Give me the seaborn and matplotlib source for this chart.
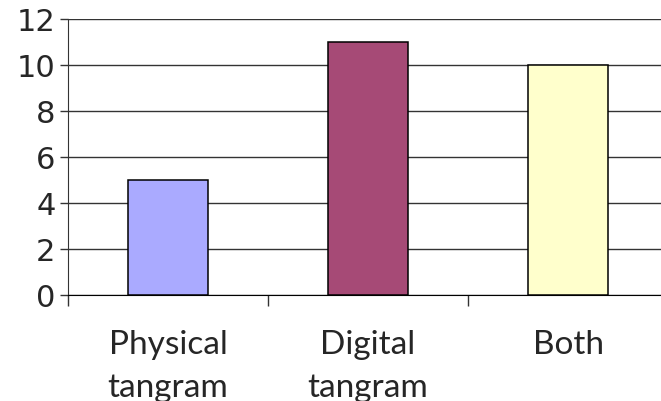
import seaborn as sns
import matplotlib.pyplot as plt
import pandas as pd

categories = ['Physical\ntangram', 'Digital\ntangram', 'Both']
counts = [5, 11, 10]
bar_colors = ['#AAAAFF', '#A64A76', '#FFFFCC']
y_ticks = [0, 2, 4, 6, 8, 10, 12]

df = pd.DataFrame({'category': categories, 'count': counts})

sns.set_style('white')
fig = plt.figure(figsize=(6.61, 4.01), dpi=100)
ax = fig.add_axes([0.1029, 0.2643, 0.9077, 0.6883])

sns.barplot(data=df, x='category', y='count', hue='category', palette=bar_colors,
            legend=False, width=0.4, edgecolor='black', linewidth=1.1,
            saturation=1, ax=ax, zorder=3)

ax.set_ylim(0, 12)
ax.set_xlim(-0.5, 2.5)
ax.set_yticks(y_ticks)
ax.set_yticklabels([str(v) for v in y_ticks], fontsize=22, family='DejaVu Sans')
ax.yaxis.grid(True, color='#333333', linewidth=1)
ax.set_axisbelow(True)
ax.tick_params(axis='y', length=6, width=1, color='#333333', left=True, pad=3)

ax.set_xticks([0, 1, 2])
ax.set_xticklabels(categories, fontsize=24, family='Lato', linespacing=1.55)
ax.tick_params(axis='x', which='major', length=0, pad=25)
ax.set_xticks([-0.5, 0.5, 1.5, 2.5], minor=True)
ax.tick_params(axis='x', which='minor', length=8, width=1, color='#333333', bottom=True)

ax.set_xlabel('')
ax.set_ylabel('')
sns.despine(ax=ax, top=True, right=True)
ax.spines['left'].set_color('#333333')
ax.spines['bottom'].set_color('black')

fig.savefig('out.png', dpi=100)
